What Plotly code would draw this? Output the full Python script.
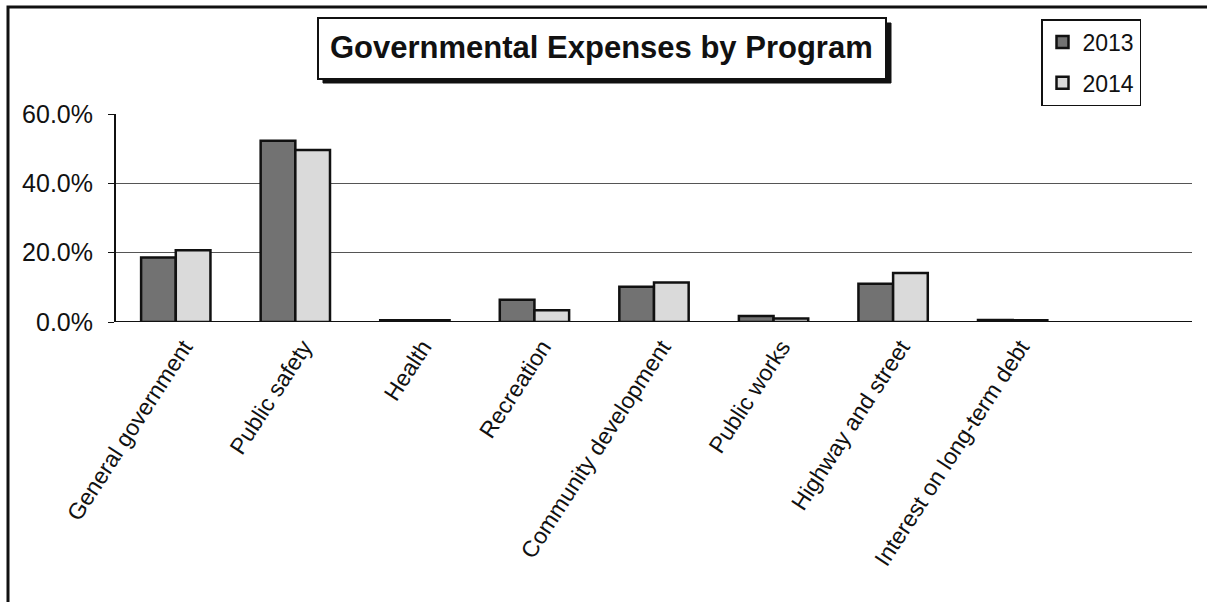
import plotly.graph_objects as go

categories = ["General government", "Public safety", "Health", "Recreation",
              "Community development", "Public works", "Highway and street",
              "Interest on long-term debt", " "]
values_2013 = [18.6, 52.3, 0.5, 6.4, 10.2, 1.7, 11.0, 0.6, None]
values_2014 = [20.7, 49.6, 0.5, 3.4, 11.4, 1.0, 14.1, 0.5, None]
tick_vals = [0, 20, 40, 60]
tick_text = ["0.0%", "20.0%", "40.0%", "60.0%"]

W, H = 1207, 602
L, R, T, B = 116, 15, 114, 280
pw, ph = W - L - R, H - T - B

def px(x):
    return (x - L) / pw

def py(y):
    return (H - B - y) / ph

FONT = "Arial, Liberation Sans, sans-serif"

fig = go.Figure()
fig.add_trace(go.Bar(name="2013", x=categories, y=values_2013, legendgroup="a",
                     marker=dict(color="#727272", line=dict(color="#111", width=2.5))))
fig.add_trace(go.Bar(name="2014", x=categories, y=values_2014, legendgroup="b",
                     marker=dict(color="#dadada", line=dict(color="#111", width=2.5))))

fig.update_layout(
    width=W, height=H,
    margin=dict(l=L, r=R, t=T, b=B, autoexpand=False),
    paper_bgcolor="white", plot_bgcolor="white",
    barmode="group", bargap=0.42, bargroupgap=0.0,
    font=dict(family=FONT, color="#111", size=22),
    showlegend=True,
    legend=dict(x=px(1041), y=py(19), xanchor="left", yanchor="top",
                bordercolor="#111", borderwidth=1.5, bgcolor="white",
                font=dict(size=23), itemwidth=30, tracegroupgap=8),
    xaxis=dict(tickangle=-57, showline=False, ticks="", tickfont=dict(size=23),
               showgrid=False, ticklabelstandoff=6, ticklabelshift=8),
    yaxis=dict(range=[0, 60], tickvals=tick_vals, ticktext=tick_text,
               showgrid=True, gridcolor="#555", gridwidth=1,
               showline=True, linecolor="#111", linewidth=2,
               ticks="outside", ticklen=6, tickcolor="#111",
               ticklabelstandoff=10,
               tickfont=dict(size=25), zeroline=False),
)

# x-axis baseline
fig.add_shape(type="line", xref="paper", yref="y", x0=0, x1=1, y0=0, y1=0,
              line=dict(color="#111", width=2))

# chart border (left and top edges visible)
fig.add_shape(type="rect", xref="paper", yref="paper",
              x0=px(8), x1=px(1230), y0=py(7), y1=py(640),
              line=dict(color="#111", width=3), layer="below")

# title box shadow and box
fig.add_shape(type="rect", xref="paper", yref="paper",
              x0=px(323), x1=px(891), y0=py(23), y1=py(83),
              fillcolor="#111", line=dict(color="#111", width=1))
fig.add_shape(type="rect", xref="paper", yref="paper",
              x0=px(318), x1=px(886), y0=py(18), y1=py(79),
              fillcolor="white", line=dict(color="#111", width=2))
fig.add_annotation(x=px(601), y=py(47), xref="paper", yref="paper",
                   text="<b>Governmental Expenses by Program</b>", showarrow=False,
                   font=dict(size=31, family=FONT, color="#111"),
                   xanchor="center", yanchor="middle")

fig.write_html("out.html", post_script="document.body.style.margin='0';",
               config={"displayModeBar": False})
